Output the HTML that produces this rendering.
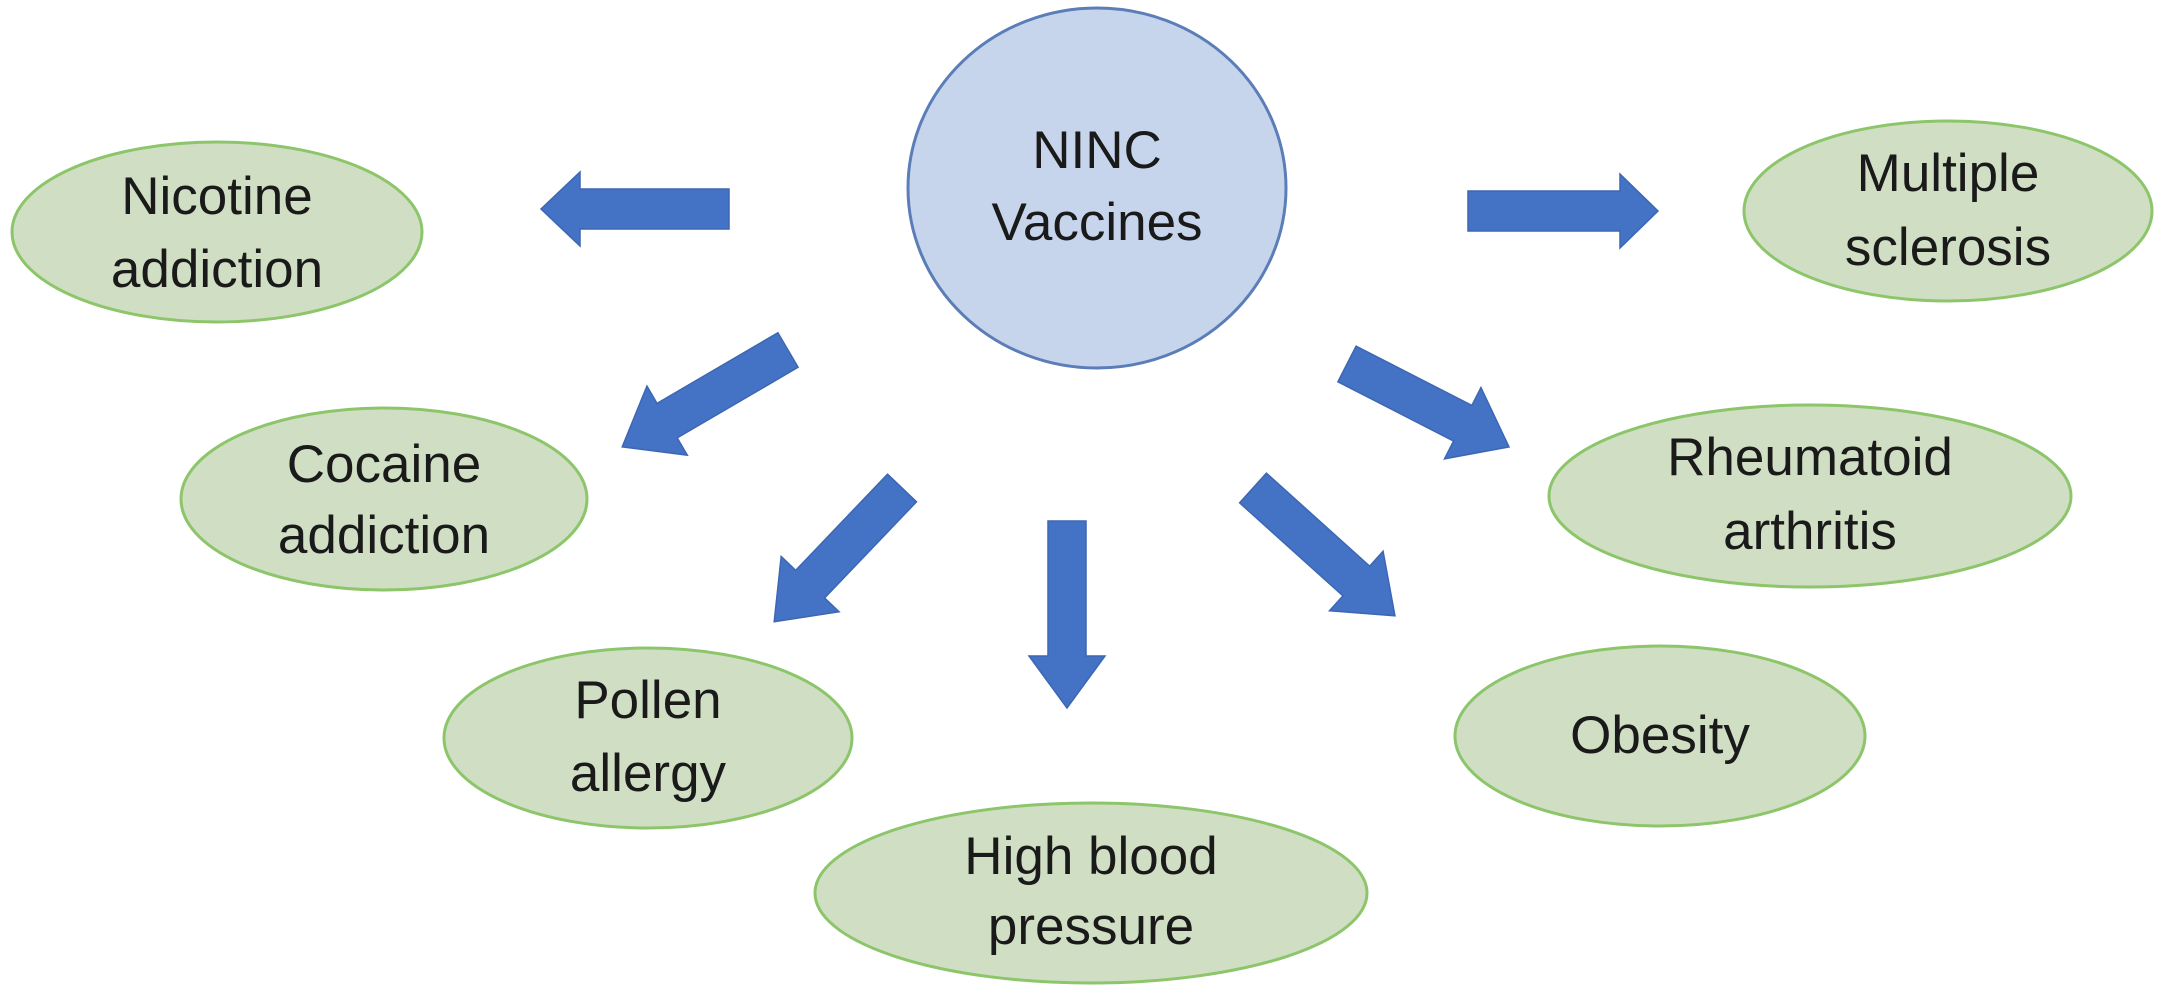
<!DOCTYPE html>
<html><head><meta charset="utf-8"><style>
html,body{margin:0;padding:0;background:#fff;}
svg{display:block}
text{font-family:"Liberation Sans",sans-serif;font-size:53px;fill:#1a1a1a;text-anchor:middle}
.e{fill:#d0dfc4;stroke:#8cc56a;stroke-width:3}
.a{fill:#4472c4;stroke:#3d67b3;stroke-width:1.5}
</style></head><body>
<svg width="2167" height="1000" viewBox="0 0 2167 1000" xmlns="http://www.w3.org/2000/svg">
<ellipse cx="1097" cy="188" rx="189" ry="180" fill="#c7d5ec" stroke="#5b7db8" stroke-width="3"/>
<text x="1097" y="168">NINC</text><text x="1097" y="240">Vaccines</text>

<g transform="translate(729,209) rotate(180)"><polygon class="a" points="0,-20 149,-20 149,-37 188,0 149,37 149,20 0,20"/></g>
<g transform="translate(1468,211)"><polygon class="a" points="0,-20 152,-20 152,-37 190,0 152,37 152,20 0,20"/></g>
<g transform="translate(788,350) rotate(149.7)"><polygon class="a" points="0,-20 140,-20 140,-40 192,0 140,40 140,20 0,20"/></g>
<g transform="translate(902,488) rotate(133.7)"><polygon class="a" points="0,-20 133,-20 133,-40 185,0 133,40 133,20 0,20"/></g>
<g transform="translate(1067,521) rotate(90)"><polygon class="a" points="0,-19 135,-19 135,-38 187,0 135,38 135,19 0,19"/></g>
<g transform="translate(1347,364) rotate(27.1)"><polygon class="a" points="0,-20 130,-20 130,-40 182,0 130,40 130,20 0,20"/></g>
<g transform="translate(1253,488) rotate(42)"><polygon class="a" points="0,-20 139,-20 139,-40 191,0 139,40 139,20 0,20"/></g>

<ellipse class="e" cx="217" cy="232" rx="205" ry="90"/>
<text x="217" y="214">Nicotine</text><text x="217" y="287">addiction</text>
<ellipse class="e" cx="384" cy="499" rx="203" ry="91"/>
<text x="384" y="482">Cocaine</text><text x="384" y="553">addiction</text>
<ellipse class="e" cx="648" cy="738" rx="204" ry="90"/>
<text x="648" y="718">Pollen</text><text x="648" y="791">allergy</text>
<ellipse class="e" cx="1091" cy="893" rx="276" ry="90"/>
<text x="1091" y="874">High blood</text><text x="1091" y="944">pressure</text>
<ellipse class="e" cx="1948" cy="211" rx="204" ry="90"/>
<text x="1948" y="191">Multiple</text><text x="1948" y="265">sclerosis</text>
<ellipse class="e" cx="1810" cy="496" rx="261" ry="91"/>
<text x="1810" y="475">Rheumatoid</text><text x="1810" y="549">arthritis</text>
<ellipse class="e" cx="1660" cy="736" rx="205" ry="90"/>
<text x="1660" y="753">Obesity</text>
</svg>
</body></html>
